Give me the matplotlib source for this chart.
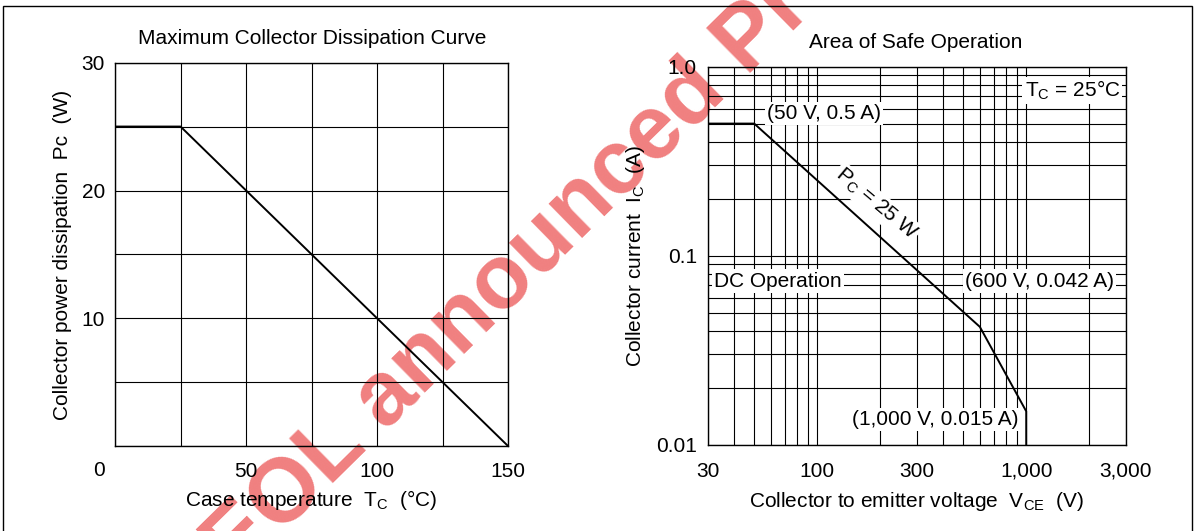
import matplotlib.pyplot as plt
from matplotlib.patches import Rectangle

plt.rcParams['font.family'] = ['Liberation Sans', 'DejaVu Sans']
plt.rcParams['mathtext.fontset'] = 'custom'
plt.rcParams['mathtext.rm'] = 'Liberation Sans'
plt.rcParams['font.size'] = 15

# Maximum collector dissipation curve
tc = [0, 25, 150]
pc = [25, 25, 0]

# Area of safe operation
vce = [30, 50, 600, 1000, 1000]
ic = [0.5, 0.5, 0.042, 0.015, 0.01]

x1_ticks = [0, 25, 50, 75, 100, 125, 150]
x1_labels = ['', '', '50', '', '100', '', '150']
y1_ticks = [0, 5, 10, 15, 20, 25, 30]
y1_labels = ['', '', '10', '', '20', '', '30']

x2_major = [30, 100, 300, 1000, 3000]
x2_labels = ['30', '100', '300', '1,000', '3,000']
x2_minor = [40, 50, 60, 70, 80, 90, 200, 400, 500, 600, 700, 800, 900, 2000]
y2_major = [0.01, 0.1, 1.0]
y2_labels = ['0.01', '0.1', '1.0']
y2_minor = [0.02, 0.03, 0.04, 0.05, 0.06, 0.07, 0.08, 0.09,
            0.2, 0.3, 0.4, 0.5, 0.6, 0.7, 0.8, 0.9]

W, H = 1197, 531
fig = plt.figure(figsize=(W / 100, H / 100), dpi=100)


def box(x0, y0, x1, y1):
    # pixel box (top-left origin) -> figure fraction rect
    return [x0 / W, 1 - y1 / H, (x1 - x0) / W, (y1 - y0) / H]


def fx(x):
    return x / W


def fy(y):
    return 1 - y / H


ax1 = fig.add_axes(box(115, 62.6, 508.3, 446.3))
ax2 = fig.add_axes(box(707.8, 66.7, 1126, 444.6))

for ax in (ax1, ax2):
    ax.set_facecolor('none')
    for s in ax.spines.values():
        s.set_linewidth(1.0)
        s.set_color('black')

# left chart
ax1.plot(tc, pc, color='black', lw=1.4, zorder=4)
ax1.set_xlim(0, 150)
ax1.set_ylim(0, 30)
ax1.set_xticks(x1_ticks, x1_labels)
ax1.set_yticks(y1_ticks, y1_labels)
ax1.grid(True, color='black', lw=0.8)
ax1.tick_params(axis='both', length=0)
ax1.tick_params(axis='x', pad=11.5)
ax1.tick_params(axis='y', pad=7.2)

fig.text(fx(98.7), fy(476), '0', ha='center', va='baseline')
fig.text(fx(312), fy(44), 'Maximum Collector Dissipation Curve', ha='center', va='baseline')
fig.text(fx(311.5), fy(506), r'Case temperature  T$_\mathregular{C}$  (°C)', ha='center', va='baseline')
fig.text(fx(68), fy(254.8), 'Collector power dissipation  Pc  (W)', rotation=90,
         rotation_mode='anchor', ha='center', va='baseline')

# right chart
ax2.plot(vce, ic, color='black', lw=1.4, zorder=4)
ax2.set_xscale('log')
ax2.set_yscale('log')
ax2.set_xlim(30, 3000)
ax2.set_ylim(0.01, 1.0)
ax2.set_xticks(x2_major, x2_labels)
ax2.set_xticks(x2_minor, [''] * len(x2_minor), minor=True)
ax2.set_yticks(y2_major, y2_labels)
ax2.set_yticks(y2_minor, [''] * len(y2_minor), minor=True)
ax2.grid(True, which='both', color='black', lw=0.8)
ax2.tick_params(axis='both', which='both', length=0)
ax2.tick_params(axis='x', pad=12.5)
ax2.tick_params(axis='y', pad=7.8)

fig.text(fx(916), fy(48.4), 'Area of Safe Operation', ha='center', va='baseline')
fig.text(fx(916.3), fy(507), r'Collector to emitter voltage  V$_\mathregular{CE}$  (V)', ha='center', va='baseline')
fig.text(fx(640.7), fy(255.7), r'Collector current  I$_\mathregular{C}$  (A)', rotation=90,
         rotation_mode='anchor', ha='center', va='baseline')

bb = dict(facecolor='white', edgecolor='none', pad=1.5)
ax2.text(57.8, 0.565, '(50 V, 0.5 A)', ha='left', va='center', bbox=bb)
ax2.text(2814, 0.694, r'T$_\mathregular{C}$ = 25°C', ha='right', va='baseline', bbox=bb)
ax2.text(191, 0.1877, r'P$_\mathregular{C}$ = 25 W', ha='center', va='center', rotation=-40,
         rotation_mode='anchor', bbox=bb)
ax2.text(32.1, 0.0734, 'DC Operation', ha='left', va='center', bbox=bb)
ax2.text(2628, 0.0734, '(600 V, 0.042 A)', ha='right', va='center', bbox=bb)
ax2.text(922, 0.01363, '(1,000 V, 0.015 A)', ha='right', va='center', bbox=bb)

# watermark behind the charts
fig.text(fx(236), fy(578), 'EOL announced Product', rotation=44.5, rotation_mode='anchor',
         ha='left', va='baseline', fontsize=65, fontweight='bold', color='#f08080', zorder=-1)

# outer frame
fig.add_artist(Rectangle((fx(3.4), fy(540)), fx(1191.7) - fx(3.4), fy(6) - fy(540),
                         transform=fig.transFigure, fill=False, lw=1.0, ec='black'))

fig.savefig('out.png', dpi=100)
